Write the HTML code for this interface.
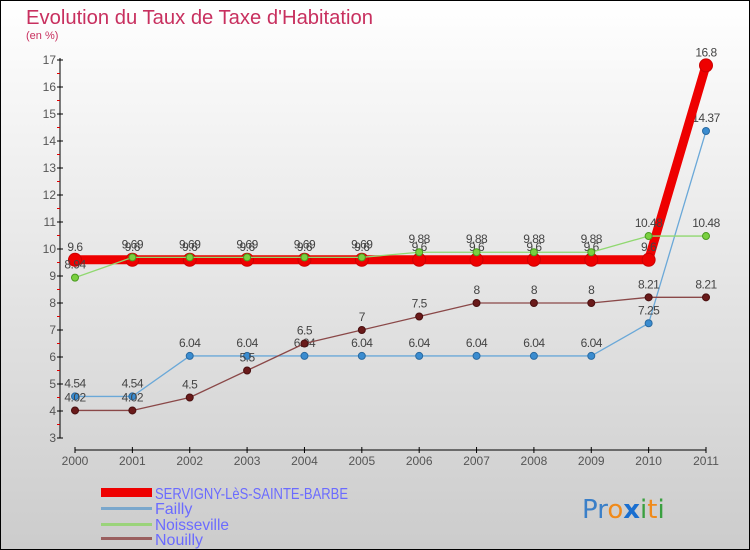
<!DOCTYPE html>
<html><head><meta charset="utf-8"><style>
body{margin:0;width:750px;height:550px;overflow:hidden}
svg{display:block;font-family:"Liberation Sans","DejaVu Sans",sans-serif}
</style></head><body>
<svg id="c" width="750" height="550">
<defs><linearGradient id="bg" x1="0" y1="0" x2="0" y2="1"><stop offset="0" stop-color="#ffffff"/><stop offset="1" stop-color="#cccccc"/></linearGradient></defs>
<rect x="0.5" y="0.5" width="749" height="549" fill="url(#bg)" stroke="#000"/>
<text x="26" y="24" font-size="20" fill="#c8305f" textLength="347" lengthAdjust="spacingAndGlyphs">Evolution du Taux de Taxe d'Habitation</text>
<text x="26" y="39" font-size="11" fill="#c8305f">(en %)</text>
<g id="axes"></g><g id="series"></g>
<g>
<rect x="101" y="488" width="51" height="9" fill="#ee0000"/>
<text x="155" y="499" font-size="16" fill="#6b6bff" textLength="193" lengthAdjust="spacingAndGlyphs">SERVIGNY-LèS-SAINTE-BARBE</text>
<rect x="101" y="507" width="51" height="3" fill="#7aa7cc"/>
<text x="155" y="514" font-size="16" fill="#6b6bff">Failly</text>
<rect x="101" y="523" width="51" height="3" fill="#9ad37a"/>
<text x="155" y="530" font-size="16" fill="#6b6bff" textLength="74" lengthAdjust="spacingAndGlyphs">Noisseville</text>
<rect x="101" y="537" width="51" height="3" fill="#9a6060"/>
<text x="155" y="545" font-size="16" fill="#6b6bff">Nouilly</text>
</g>
<text x="582" y="518" font-size="26" font-family="'DejaVu Sans',sans-serif"><tspan fill="#3a7fc8">Pr</tspan><tspan fill="#f08a1a">o</tspan><tspan fill="#1a6fd0" font-weight="bold">x</tspan><tspan fill="#3aa040">i</tspan><tspan fill="#f08a1a">t</tspan><tspan fill="#3aa040">i</tspan></text>
</svg>
<script>
const years=[2000,2001,2002,2003,2004,2005,2006,2007,2008,2009,2010,2011];
const servigny=[9.6,9.6,9.6,9.6,9.6,9.6,9.6,9.6,9.6,9.6,9.6,16.8];
const failly=[4.54,4.54,6.04,6.04,6.04,6.04,6.04,6.04,6.04,6.04,7.25,14.37];
const noisseville=[8.94,9.69,9.69,9.69,9.69,9.69,9.88,9.88,9.88,9.88,10.48,10.48];
const nouilly=[4.02,4.02,4.5,5.5,6.5,7,7.5,8,8,8,8.21,8.21];
const yTicks=[3,4,5,6,7,8,9,10,11,12,13,14,15,16,17];
const NS="http://www.w3.org/2000/svg";
const X=i=>75+i*(706-75)/11;
const Y=v=>60+(17-v)*27;
function mk(p,tag,attrs,txt){const e=document.createElementNS(NS,tag);for(const k in attrs)e.setAttribute(k,attrs[k]);if(txt!=null)e.textContent=txt;p.appendChild(e);return e;}
const ax=document.getElementById('axes');
let e=mk(ax,'line',{x1:60,y1:Y(17)-2,x2:60,y2:Y(3),stroke:'#000'});


yTicks.forEach(t=>{
 mk(ax,'line',{x1:57,x2:63,y1:Y(t),y2:Y(t),stroke:'#000'});
 if(t<17){mk(ax,'line',{x1:57,x2:60,y1:Y(t+0.5),y2:Y(t+0.5),stroke:'#e00000'});}
 const l=mk(ax,'text',{x:56,y:Y(t)+4,'font-size':12,fill:'#555','text-anchor':'end'},t);
 
 
});
e=mk(ax,'line',{x1:X(0),x2:X(11),y1:450,y2:450,stroke:'#000'});


years.forEach((yr,i)=>{
 mk(ax,'line',{x1:X(i),x2:X(i),y1:447,y2:453,stroke:'#000'});
 const l=mk(ax,'text',{x:X(i),y:465,'font-size':12,fill:'#555','text-anchor':'middle'},yr);
 
 
});
const sg=document.getElementById('series');
function draw(vals,name,line,lw,dot,r,dstroke){
 const g=mk(sg,'g',{});
 
 
 mk(g,'polyline',{points:vals.map((v,i)=>X(i)+','+Y(v)).join(' '),fill:'none',stroke:line,'stroke-width':lw,'stroke-linejoin':'round'});
 vals.forEach((v,i)=>{
  const c=mk(g,'circle',{cx:X(i),cy:Y(v),r:r,fill:dot,stroke:dstroke,'stroke-width':1});
  
  
  const t=mk(g,'text',{x:X(i),y:Y(v)-9,'font-size':12,fill:'#444','text-anchor':'middle','letter-spacing':'-0.5'},v);
  
  
 });
}
draw(failly,'failly','#6aa8d8',1.3,'#3a8cd0',3.5,'#2a6aa0');
draw(nouilly,'nouilly','#8a4848',1.3,'#6a1a1a',3.5,'#4a1010');
draw(servigny,'servigny','#ee0000',9,'#ee0000',6.5,'#cc0000');
draw(noisseville,'noisseville','#90d870',1.3,'#7ad040',3.5,'#4a9a20');
</script>
</body></html>
